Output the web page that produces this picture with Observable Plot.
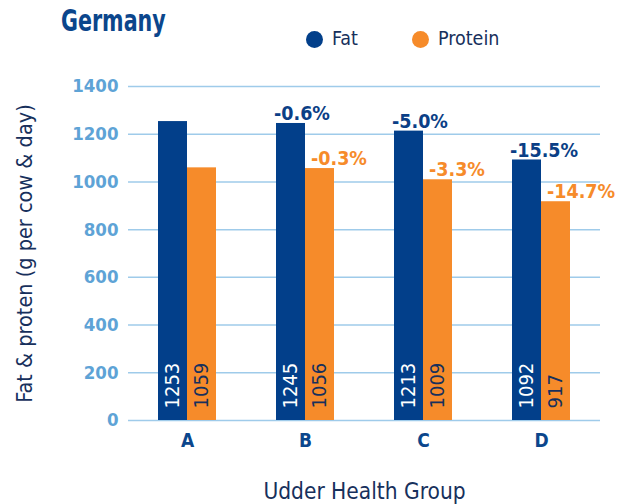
<!DOCTYPE html>
<html><head><meta charset="utf-8">
<script src="https://cdn.jsdelivr.net/npm/d3@7"></script>
<script src="https://cdn.jsdelivr.net/npm/@observablehq/plot@0.6"></script>
<style>
body{margin:0;background:#fff;}
#wrap{position:relative;width:625px;height:504px;overflow:hidden;}
#chart{position:absolute;left:0;top:0;}
.cf{font-family:"DejaVu Sans Condensed","DejaVu Sans",sans-serif;font-stretch:condensed;}
#title{position:absolute;left:61px;top:5px;font-family:"DejaVu Sans Condensed","DejaVu Sans",sans-serif;font-stretch:condensed;font-weight:bold;font-size:31px;color:#0b468c;line-height:1;transform:scaleX(0.74);transform-origin:0 0;white-space:nowrap;}
.leg{position:absolute;top:29px;height:20px;display:flex;align-items:center;font-size:19.5px;color:#17305c;line-height:1;}
.leg .dot{width:17px;height:17px;border-radius:50%;display:inline-block;margin-right:9px;}
svg g[aria-label="y-axis tick label"]{fill:#5ea3d6;font-weight:bold;font-size:18.5px;}
svg g[aria-label="fx-axis tick label"]{fill:#0b468c;font-weight:bold;font-size:19px;}
svg g[aria-label="y-axis label"]{fill:#17305c;font-weight:normal;font-size:21.5px;}
svg g[aria-label="fx-axis label"]{fill:#17305c;font-weight:normal;font-size:22.5px;}
</style>
</head><body>
<div id="wrap">
<div id="chart"></div>
<div id="title">Germany</div>
<div id="legend"></div>
</div>
<script>
const groups = ["A", "B", "C", "D"];
const series = ["Fat", "Protein"];
const fat = [1253, 1245, 1213, 1092];
const protein = [1059, 1056, 1009, 917];
const fatChange = [null, "-0.6%", "-5.0%", "-15.5%"];
const proteinChange = [null, "-0.3%", "-3.3%", "-14.7%"];
const yTicks = [0, 200, 400, 600, 800, 1000, 1200, 1400];
const colors = ["#023f8a", "#f68b2a"];

const rows = groups.flatMap((g, i) => [
  {group: g, series: "Fat", value: fat[i], change: fatChange[i]},
  {group: g, series: "Protein", value: protein[i], change: proteinChange[i]}
]);
const fatRows = rows.filter(d => d.series === "Fat");
const proRows = rows.filter(d => d.series === "Protein");

const font = '"DejaVu Sans Condensed","DejaVu Sans",sans-serif';

const chart = Plot.plot({
  width: 625,
  height: 504,
  marginTop: 86,
  marginBottom: 84,
  marginLeft: 127,
  marginRight: 25,
  style: {fontFamily: font, fontStretch: "condensed", background: "transparent", overflow: "visible"},
  fx: {domain: groups, padding: 0, label: "Udder Health Group", labelAnchor: "center", labelOffset: 78, tickSize: 0, tickPadding: 13},
  x: {domain: series, paddingInner: 0, paddingOuter: 1, axis: null},
  y: {domain: [0, 1400], ticks: yTicks, tickFormat: d => String(d), tickSize: 0, tickPadding: 10, label: "Fat & proten (g per cow & day)", labelAnchor: "center", labelOffset: 112, labelArrow: "none"},
  color: {domain: series, range: colors},
  marks: [
    Plot.ruleY(yTicks, {stroke: "#9fcbea", strokeWidth: 1.5}),
    Plot.barY(rows, {fx: "group", x: "series", y: "value", fill: "series"}),
    Plot.text(fatRows, {fx: "group", x: "series", y: 0, text: d => String(d.value), rotate: -90, textAnchor: "start", dy: -12, fill: "#ffffff", fontSize: 20}),
    Plot.text(proRows, {fx: "group", x: "series", y: 0, text: d => String(d.value), rotate: -90, textAnchor: "start", dy: -12, fill: "#17305c", fontSize: 20}),
    Plot.text(fatRows.filter(d => d.change), {fx: "group", x: "series", y: "value", text: "change", textAnchor: "start", lineAnchor: "bottom", dx: -17, dy: -3, fill: "#0b3f86", fontWeight: "bold", fontSize: 19.5}),
    Plot.text(proRows.filter(d => d.change), {fx: "group", x: "series", y: "value", text: "change", textAnchor: "start", lineAnchor: "bottom", dx: -9, dy: -4, fill: "#f68b2a", fontWeight: "bold", fontSize: 19.5})
  ]
});
document.getElementById("chart").appendChild(chart);

const legend = document.getElementById("legend");
const legPos = [306, 412];
series.forEach((s, i) => {
  const item = document.createElement("div");
  item.className = "leg cf";
  item.style.left = legPos[i] + "px";
  const dot = document.createElement("span");
  dot.className = "dot";
  dot.style.background = colors[i];
  item.appendChild(dot);
  item.appendChild(document.createTextNode(s));
  legend.appendChild(item);
});
</script>
</body></html>
